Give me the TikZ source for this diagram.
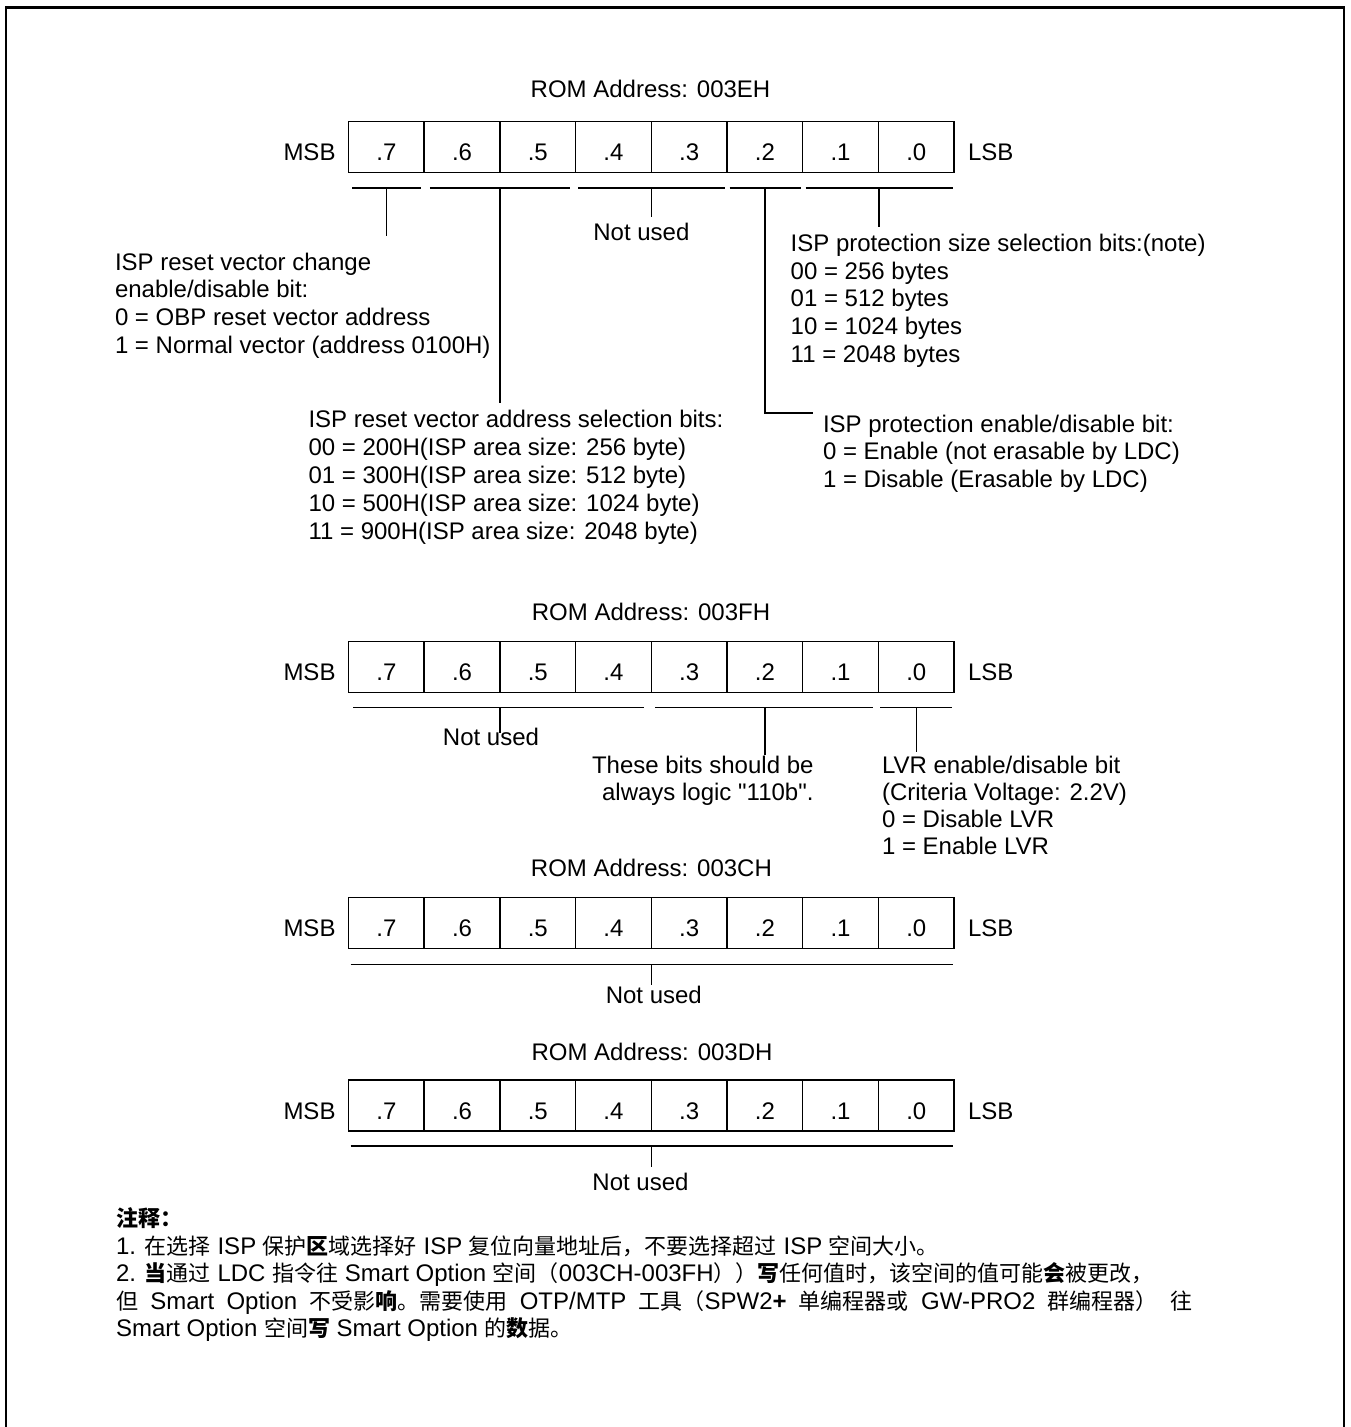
\documentclass[tikz,border=0pt]{standalone}
\usepackage{fontspec}
\setmainfont{Liberation Sans}
\newfontfamily\rawf{Liberation Sans}
\newfontfamily\cjk{Noto Sans CJK SC}
\newcommand\zh[1]{{\cjk\fontsize{11pt}{13.9pt}\selectfont #1}}
\newcommand\zhb[1]{{\cjk\bfseries\fontsize{11pt}{13.9pt}\selectfont #1}}
\begin{document}
\begin{tikzpicture}[x=0.5pt,y=-0.5pt,
  every node/.style={inner sep=0pt,outer sep=0pt,font=\fontsize{12pt}{13.9pt}\selectfont},
  cell/.style={draw,line width=0.75pt,minimum width=37.85pt,minimum height=25.5pt,text height=13.5pt,text depth=0pt},
  ln/.style={line width=0.7pt},
  frame/.style={line width=1.15pt},
  lineW/.style={anchor=base west},
  lineC/.style={anchor=base},
  lineE/.style={anchor=base east}]
\useasboundingbox (0,0) rectangle (1350,1427);
\draw[frame] (6.3,1445) -- (6.3,7.5) -- (1344.3,7.5) -- (1344.3,1445);

\newcommand\regrow[2]{%
  \foreach \k/\b in {0/7,1/6,2/5,3/4,4/3,5/2,6/1,7/0} {
    \node[cell] (#1c\b) at ({348.5+75.7*(\k+0.5)},{#2+25.5}) {.\b};
  }
  \node[lineC] (#1msb) at (309.5,{#2+39}) {MSB};
  \node[lineC] (#1lsb) at (990.7,{#2+39}) {LSB};
}

% ---------------- Register 003EH ----------------
\node[lineC] (t1) at (650.5,97.5) {ROM Address: 003EH};
\regrow{ra}{121.7}
\draw[ln] (352.4,188) -- (421.1,188);
\draw[ln] (429.8,188) -- (570,188);
\draw[ln] (578.3,188) -- (724.8,188);
\draw[ln] (729.7,188) -- (800.8,188);
\draw[ln] (805.6,188) -- (953.1,188);
\coordinate (a7) at (386.2,236);
\coordinate (a65) at (499.9,403);
\coordinate (a43) at (651.3,217);
\coordinate (a2) at (764.85,413);
\coordinate (a2e) at (813,413);
\coordinate (a10) at (879,227);
\draw[ln] (a7 |- 0,188) -- (a7);
\draw[ln] (a65 |- 0,188) -- (a65);
\draw[ln] (a43 |- 0,188) -- (a43);
\draw[ln] (a2 |- 0,188) -- (a2) -- (a2e);
\draw[ln] (a10 |- 0,188) -- (a10);
\node[lineC] (nu1) at (641.4,240.5) {Not used};

\node[lineW] (l1) at (115,270.2) {ISP reset vector change};
\node[lineW] (l2) at (115,298) {enable/disable bit:};
\node[lineW] (l3) at (115,325.8) {0 = OBP reset vector address};
\node[lineW] (l4) at (115,353.6) {1 = Normal vector (address 0100H)};

\node[lineW] (m1) at (308.5,427.8) {ISP reset vector address selection bits:};
\node[lineW] (m2) at (308.5,455.7) {00 = 200H(ISP area size: 256 byte)};
\node[lineW] (m3) at (308.5,483.6) {01 = 300H(ISP area size: 512 byte)};
\node[lineW] (m4) at (308.5,511.5) {10 = 500H(ISP area size: 1024 byte)};
\node[lineW] (m5) at (308.5,539.4) {11 = 900H(ISP area size: 2048 byte)};

\node[lineW] (r1) at (790.7,251.8) {ISP protection size selection bits:(note)};
\node[lineW] (r2) at (790.7,279.4) {00 = 256 bytes};
\node[lineW] (r3) at (790.7,307) {01 = 512 bytes};
\node[lineW] (r4) at (790.7,334.6) {10 = 1024 bytes};
\node[lineW] (r5) at (790.7,362.2) {11 = 2048 bytes};

\node[lineW] (p1) at (823,432.5) {ISP protection enable/disable bit:};
\node[lineW] (p2) at (823,459.8) {0 = Enable (not erasable by LDC)};
\node[lineW] (p3) at (823,487.1) {1 = Disable (Erasable by LDC)};

% ---------------- Register 003FH ----------------
\node[lineC] (t2) at (651,620.6) {ROM Address: 003FH};
\regrow{rb}{641.7}
\draw[ln] (353,707.7) -- (643.5,707.7);
\draw[ln] (655,707.7) -- (873,707.7);
\draw[ln] (880,707.7) -- (952,707.7);
\coordinate (b74) at (499.9,733);
\coordinate (b31) at (764.85,755);
\coordinate (b0) at (916.25,752);
\draw[ln] (b74 |- 0,707.7) -- (b74);
\draw[ln] (b31 |- 0,707.7) -- (b31);
\draw[ln] (b0 |- 0,707.7) -- (b0);
\node[lineC] (nu2) at (491,745.2) {Not used};
\node[lineE] (s1) at (813.5,773) {These bits should be};
\node[lineE] (s2) at (813.5,800) {\rawf always logic "110b".};
\node[lineW] (v1) at (882,773) {LVR enable/disable bit};
\node[lineW] (v2) at (882,800) {(Criteria Voltage: 2.2V)};
\node[lineW] (v3) at (882,827) {0 = Disable LVR};
\node[lineW] (v4) at (882,854) {1 = Enable LVR};

% ---------------- Register 003CH ----------------
\node[lineC] (t3) at (651.4,876.6) {ROM Address: 003CH};
\regrow{rc}{897.7}
\draw[ln] (350.6,964.3) -- (953,964.3);
\coordinate (c70) at (651.7,985);
\draw[ln] (c70 |- 0,964.3) -- (c70);
\node[lineC] (nu3) at (653.8,1003.5) {Not used};

% ---------------- Register 003DH ----------------
\node[lineC] (t4) at (652,1060.3) {ROM Address: 003DH};
\regrow{rd}{1080}
\draw[ln] (350.6,1146) -- (953,1146);
\coordinate (d70) at (651.7,1166.7);
\draw[ln] (d70 |- 0,1146) -- (d70);
\node[lineC] (nu4) at (640.5,1190.5) {Not used};

% ---------------- Notes ----------------
\node[lineW] (nt) at (116,1226) {\zhb{注释：}};
\node[lineW] (n1) at (116,1254) {1. \zh{在选择} ISP \zh{保护}\zhb{区}\zh{域选择好} ISP \zh{复位向量地址后，不要选择超过} ISP \zh{空间大小。}};
\node[lineW] (n2) at (116,1281) {2. \zhb{当}\zh{通过} LDC \zh{指令往} Smart Option \zh{空间（}003CH-003FH\zh{））}\zhb{写}\zh{任何值时，该空间的值可能}\zhb{会}\zh{被更改，}};
\node[lineW] (n3) at (116,1309) {\makebox[538pt][s]{\zh{但} Smart Option \zh{不受影}\zhb{响}\zh{。需要使用} OTP/MTP \zh{工具（}SPW2\textbf{+} \zh{单编程器或} GW-PRO2 \zh{群编程器）} \zh{往}}};
\node[lineW] (n4) at (116,1336) {Smart Option \zh{空间}\zhb{写} Smart Option \zh{的}\zhb{数}\zh{据。}};
\end{tikzpicture}
\end{document}
